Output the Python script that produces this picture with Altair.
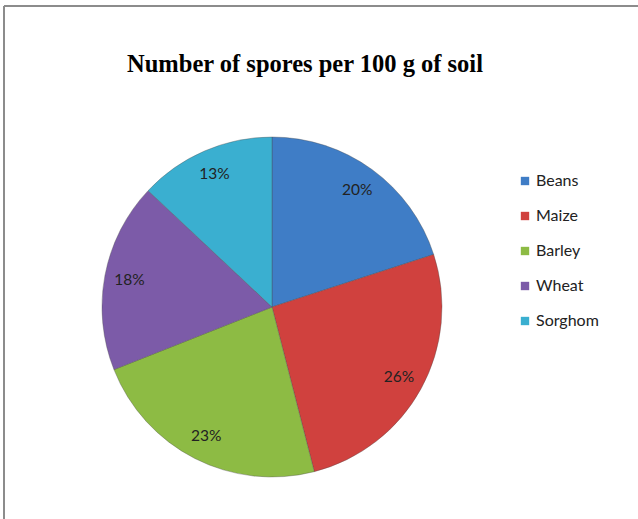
import altair as alt
import pandas as pd

# Share of spores per crop (percent)
crops = ["Beans", "Maize", "Barley", "Wheat", "Sorghom"]
percents = [20, 26, 23, 18, 13]
colors = ["#3F7DC6", "#D0413E", "#8DBB44", "#7C5BA8", "#3AAFD0"]

df = pd.DataFrame({
    "crop": crops,
    "pct": percents,
    "idx": list(range(len(crops))),
})
df["label"] = df["pct"].astype(str) + "%"

W, H = 638, 519
CX, CY = 272, 307

color = alt.Color(
    "crop:N",
    scale=alt.Scale(domain=crops, range=colors),
    sort=crops,
    legend=alt.Legend(
        title=None,
        orient="none",
        legendX=517,
        legendY=173,
        symbolType="square",
        symbolSize=70,
        symbolStrokeWidth=0,
        labelFont="Lato",
        labelFontSize=16,
        labelColor="#222222",
        rowPadding=19,
        labelOffset=3,
    ),
)

base = alt.Chart(df).encode(
    theta=alt.Theta("pct:Q", stack=True),
    order=alt.Order("idx:Q"),
)

pie = base.mark_arc(outerRadius=170, stroke="#4a4a4a", strokeWidth=0.6, strokeOpacity=0.6).encode(
    color=color,
    x=alt.value(CX),
    y=alt.value(CY),
)

labels = base.mark_text(radius=145, font="Lato", fontSize=15.5, color="#222222").encode(
    text="label:N",
    x=alt.value(CX),
    y=alt.value(CY),
)

# Frame lines along the top and left edges
frame = pd.DataFrame({"k": [0]})
top_line = alt.Chart(frame).mark_rule(color="#8c8c8c", strokeWidth=2).encode(
    x=alt.value(4), x2=alt.value(W), y=alt.value(6)
)
left_line = alt.Chart(frame).mark_rule(color="#8c8c8c", strokeWidth=2).encode(
    x=alt.value(4), y=alt.value(6), y2=alt.value(H)
)

chart = alt.layer(top_line, left_line, pie, labels).properties(
    width=W,
    height=H,
    padding=0,
    autosize=alt.AutoSizeParams(type="none"),
    title=alt.TitleParams(
        "Number of spores per 100 g of soil",
        font="Liberation Serif",
        fontSize=24.5,
        fontWeight="bold",
        color="#000000",
        anchor="middle",
        dx=-14,
        dy=81,
    ),
).configure_view(stroke=None)

chart.save("out.html", embed_options={"renderer": "svg", "actions": False})
